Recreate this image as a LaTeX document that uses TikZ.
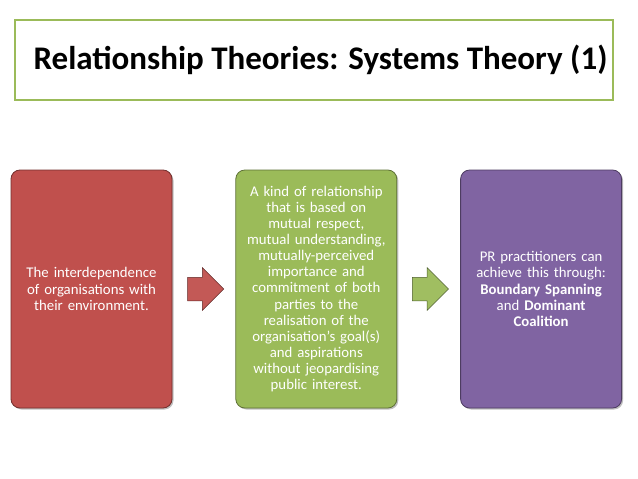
\documentclass[tikz,border=0pt]{standalone}
\usepackage{fontspec}
\setmainfont{Carlito}
\usetikzlibrary{positioning, shapes.arrows, shadows}
\definecolor{stRed}{HTML}{C0504D}
\definecolor{stGreen}{HTML}{9BBB59}
\definecolor{stPurple}{HTML}{8064A2}
\tikzset{
  st/.style={font=\fontsize{14.8}{16.1}\selectfont, node distance=63pt},
  card/.style={draw=#1!60!black, line width=0.8pt, fill=#1, rounded corners=9pt,
    minimum width=161pt, minimum height=238pt, text width=155pt, align=center,
    text=white, inner sep=2pt, drop shadow={shadow xshift=1.5pt, shadow yshift=-1.5pt, opacity=0.5}},
  flow/.style={single arrow, draw=#1!50!black, line width=0.5pt, fill=#1!95!white,
    inner xsep=0pt, inner ysep=11.5pt, single arrow head extend=9.5pt,
    single arrow head indent=0pt, minimum height=36pt},
  headline/.style={draw=stGreen, line width=1.2pt, minimum width=598pt, minimum height=80pt,
    font=\bfseries\fontsize{33}{38}\selectfont},
}
\begin{document}
\begin{tikzpicture}[st, x=1pt, y=-1pt]
\useasboundingbox (0,0) rectangle (638,479);
\node[headline] (title) at (314,60) {\hspace{13pt}Relationship Theories: Systems Theory (1)};

\node[card=stRed] (inter) at (91.5,289) {The interdependence\\of organisations with\\their environment.};
\node[card=stGreen, right=of inter] (rel) {A kind of relationship\\that is based on\\mutual respect,\\mutual understanding,\\mutually-perceived\\importance and\\commitment of both\\parties to the\\realisation of the\\organisation’s goal(s)\\and aspirations\\without jeopardising\\public interest.};
\node[card=stPurple, right=of rel] (pr) {PR practitioners can\\achieve this through:\\\textbf{Boundary Spanning}\\and \textbf{Dominant}\\\textbf{Coalition}};

\node[flow=stRed, right=15pt of inter, anchor=tail] (a1) {};
\node[flow=stGreen, right=15pt of rel, anchor=tail] (a2) {};
\end{tikzpicture}
\end{document}
